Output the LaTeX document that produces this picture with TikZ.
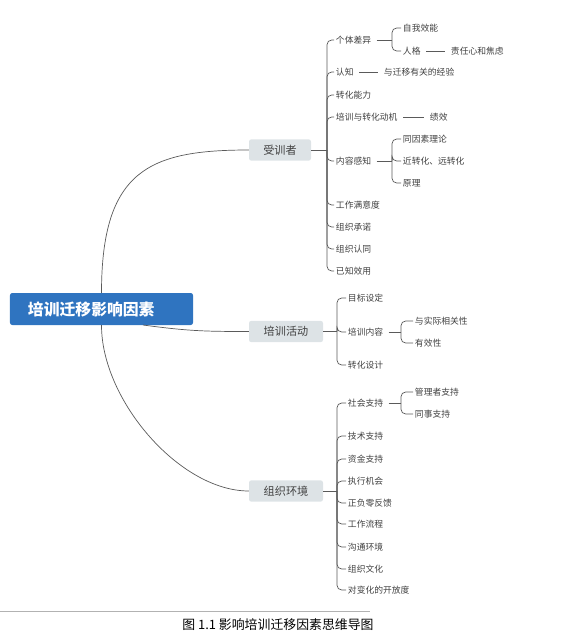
\documentclass[tikz,border=0pt]{standalone}
\usepackage{fontspec}
\newfontfamily\cjk{Noto Sans CJK SC}
\definecolor{rootblue}{HTML}{2F74C0}
\definecolor{topicgray}{HTML}{DDE3E6}
\definecolor{txtgray}{HTML}{404040}
\definecolor{linegray}{HTML}{5A5A5A}

\tikzset{
  root/.style={fill=rootblue, rounded corners=2pt, minimum height=0.96cm,
    text width=4.41cm, inner xsep=0.54cm, inner ysep=0pt, align=left,
    text=white, font=\cjk\bfseries\fontsize{13.5}{15}\selectfont},
  topic/.style={fill=topicgray, rounded corners=2pt, minimum height=0.64cm,
    inner sep=0pt, text=txtgray, font=\cjk\fontsize{9.5}{11}\selectfont},
  leaf/.style={anchor=west, inner sep=1.5pt, text=txtgray,
    font=\cjk\fontsize{7.5}{9}\selectfont},
  branch/.style={draw=linegray, line width=0.6pt},
  brace/.style={branch, rounded corners=4pt},
  dashlink/.style={branch, shorten <=3pt, shorten >=3pt}
}

\begin{document}
\begin{tikzpicture}[x=0.03cm,y=-0.03cm]
  \useasboundingbox (0,0) rectangle (563,638);

  % centre
  \node[root] (root) at (101.5,309) {培训迁移影响因素};
  \node[topic, minimum width=1.86cm] (trainee) at (280,150) {受训者};
  \node[topic, minimum width=2.22cm] (activity) at (286,331.5) {培训活动};
  \node[topic, minimum width=2.22cm] (environ) at (286,491) {组织环境};
  \coordinate (rb) at (143,325);
  \draw[branch] (root.north) .. controls +(0,-123) and +(-99,0) .. (trainee.west);
  \draw[branch] (rb) .. controls +(45,6) and +(-45,0) .. (activity.west);
  \draw[branch] (root.south) .. controls +(0,75) and +(-69,0) .. (environ.west);

  %受训者
  \node[leaf] (tr1) at (334,40) {个体差异};
  \node[leaf] (tr2) at (334,72) {认知};
  \node[leaf] (tr3) at (334,95) {转化能力};
  \node[leaf] (tr4) at (334,117) {培训与转化动机};
  \node[leaf] (tr5) at (334,161) {内容感知};
  \node[leaf] (tr6) at (334,205) {工作满意度};
  \node[leaf] (tr7) at (334,227) {组织承诺};
  \node[leaf] (tr8) at (334,249) {组织认同};
  \node[leaf] (tr9) at (334,271) {已知效用};
  \coordinate (jtr) at (327,150);
  \draw[branch] (trainee.east) -- (jtr);
  \foreach \n in {tr1,tr2,tr3,tr4,tr5,tr6,tr7,tr8,tr9}
    \draw[brace] (jtr) |- (\n.west);

  \node[leaf] (tr1a) at (401,28) {自我效能};
  \node[leaf] (tr1b) at (401,51) {人格};
  \node[leaf] (tr1c) at (449,51) {责任心和焦虑};
  \coordinate (jtr1) at (392,40);
  \draw[branch] (tr1.east) ++(3pt,0) -- (jtr1);
  \foreach \n in {tr1a,tr1b}
    \draw[brace] (jtr1) |- (\n.west);
  \draw[dashlink] (tr1b) -- (tr1c);

  \node[leaf] (tr2a) at (382,72) {与迁移有关的经验};
  \draw[dashlink] (tr2) -- (tr2a);
  \node[leaf] (tr4a) at (428,117) {绩效};
  \draw[dashlink] (tr4) -- (tr4a);

  \node[leaf] (tr5a) at (401,139) {同因素理论};
  \node[leaf] (tr5b) at (401,161) {近转化、远转化};
  \node[leaf] (tr5c) at (401,183) {原理};
  \coordinate (jtr5) at (392,161);
  \draw[branch] (tr5.east) ++(3pt,0) -- (jtr5);
  \foreach \n in {tr5a,tr5b,tr5c}
    \draw[brace] (jtr5) |- (\n.west);

  % 培训活动
  \node[leaf] (ac1) at (346,298) {目标设定};
  \node[leaf] (ac2) at (346,332) {培训内容};
  \node[leaf] (ac3) at (346,365) {转化设计};
  \coordinate (jac) at (337,331.5);
  \draw[branch] (activity.east) -- (jac);
  \foreach \n in {ac1,ac2,ac3}
    \draw[brace] (jac) |- (\n.west);

  \node[leaf] (ac2a) at (413,321) {与实际相关性};
  \node[leaf] (ac2b) at (413,343) {有效性};
  \coordinate (jac2) at (401,332);
  \draw[branch] (ac2.east) ++(3pt,0) -- (jac2);
  \foreach \n in {ac2a,ac2b}
    \draw[brace] (jac2) |- (\n.west);

  % 组织环境
  \node[leaf] (en1) at (346,403) {社会支持};
  \node[leaf] (en2) at (346,436) {技术支持};
  \node[leaf] (en3) at (346,459) {资金支持};
  \node[leaf] (en4) at (346,481) {执行机会};
  \node[leaf] (en5) at (346,503) {正负零反馈};
  \node[leaf] (en6) at (346,524) {工作流程};
  \node[leaf] (en7) at (346,547) {沟通环境};
  \node[leaf] (en8) at (346,569) {组织文化};
  \node[leaf] (en9) at (346,590) {对变化的开放度};
  \coordinate (jen) at (337,491);
  \draw[branch] (environ.east) -- (jen);
  \foreach \n in {en1,en2,en3,en4,en5,en6,en7,en8,en9}
    \draw[brace] (jen) |- (\n.west);

  \node[leaf] (en1a) at (413,392) {管理者支持};
  \node[leaf] (en1b) at (413,414) {同事支持};
  \coordinate (jen1) at (401,403);
  \draw[branch] (en1.east) ++(3pt,0) -- (jen1);
  \foreach \n in {en1a,en1b}
    \draw[brace] (jen1) |- (\n.west);

  % legende
  \draw[gray!60, line width=0.5pt] (0,611) -- (370,611);
  \node[font=\cjk\fontsize{11}{13}\selectfont] (caption) at (278,625)
    {图 1.1 影响培训迁移因素思维导图};
\end{tikzpicture}
\end{document}
